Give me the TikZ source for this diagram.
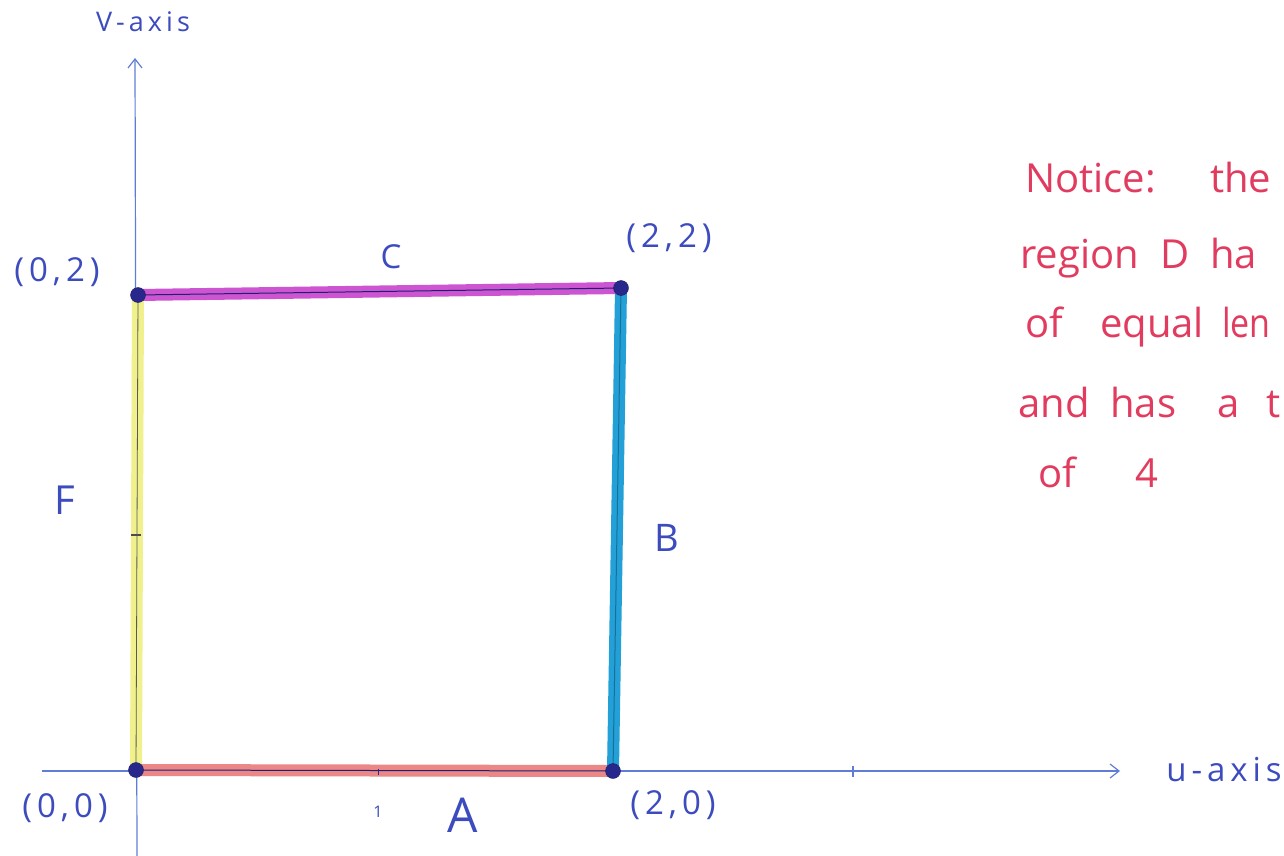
\documentclass[tikz,border=0pt]{standalone}
\usepackage{fontspec}
\usepackage{graphicx}
\setmainfont{Open Sans}
\usetikzlibrary{arrows.meta}
\definecolor{pen}{RGB}{60,75,190}
\definecolor{axisblue}{RGB}{95,125,215}
\definecolor{dotc}{RGB}{40,40,140}
\definecolor{hlC}{RGB}{205,85,210}
\definecolor{hlB}{RGB}{35,160,215}
\definecolor{hlF}{RGB}{240,240,140}
\definecolor{hlA}{RGB}{235,135,135}
\definecolor{note}{RGB}{225,60,95}
\tikzset{
  axisline/.style={draw=axisblue, line width=1.2pt},
  hl/.style={line width=12pt, line cap=round},
  penline/.style={draw=dotc!80!black, line width=1pt},
  vertex/.style={circle, fill=dotc, draw=dotc!70!black, minimum size=15pt, inner sep=0pt},
  lbl/.style={text=pen, font=\fontsize{33}{36}\selectfont\addfontfeature{LetterSpace=15}, inner sep=0pt},
  notetxt/.style={text=note, font=\fontsize{40}{44}\selectfont, anchor=base west, inner sep=0pt},
}
\begin{document}
\begin{tikzpicture}[x=1pt,y=-1pt]
\fill[white] (0,0) rectangle (1284,856);
\begin{scope}
\clip (0,0) rectangle (1284,856);
% axes
\coordinate (vbot) at (137,856);
\coordinate (vtop) at (135,58);
\coordinate (uleft) at (42,771);
\coordinate (uright) at (1120,771);
\draw[axisline, -{Straight Barb[length=9pt,width=14pt]}] (vbot) -- (vtop);
\draw[axisline, -{Straight Barb[length=9pt,width=14pt]}] (uleft) -- (uright);
\draw[axisline] (853,766) -- (853,777);
% vertices positions
\coordinate (O) at (136,770);
\coordinate (P20) at (613,771);
\coordinate (P22) at (621,288);
\coordinate (P02) at (138,295);
% highlighter edges
\draw[hl, hlF] (O) -- (P02);
\draw[hl, hlA] (O) -- (P20);
\draw[hl, hlB] (P20) -- (P22);
\draw[hl, hlC] (P02) -- (P22);
% pen lines
\draw[penline, draw=gray!70!black, line width=0.8pt] (O) -- (P02);
\draw[penline] (O) -- (P20);
\draw[penline, draw=hlB!70!black] (P20) -- (P22);
\draw[penline] (P02) -- (P22);
\draw[line width=1.5pt, black!70] (131,535) -- (141,535);
\draw[line width=1pt, dotc] (378,769) -- (378,775);
% vertex dots
\node[vertex] (o) at (O) {};
\node[vertex] (p20) at (P20) {};
\node[vertex] (p22) at (P22) {};
\node[vertex] (p02) at (P02) {};
% labels
\node[lbl, font=\fontsize{27}{30}\selectfont\addfontfeature{LetterSpace=15}] (vlab) at (143,22) {V-axis};
\node[lbl] (ulab) at (1224,770) {u-axis};
\node[lbl] (l02) at (57,272) {(0,2)};
\node[lbl] (l22) at (669,238) {(2,2)};
\node[lbl] (l00) at (65,808) {(0,0)};
\node[lbl] (l20) at (673,805) {(2,0)};
\node[lbl] (lC) at (391,257) {C};
\node[lbl, font=\fontsize{38}{40}\selectfont] (lB) at (667,538) {B};
\node[lbl, font=\fontsize{40}{44}\selectfont] (lF) at (65,500) {F};
\node[lbl, font=\fontsize{48}{52}\selectfont] (lA) at (463,815) {A};
\node[lbl, font=\fontsize{16}{18}\selectfont] (l1) at (378,812) {1};
% note, word by word
\node[notetxt] (n1a) at (1025,192) {Notice:};
\node[notetxt] (n1b) at (1210,192) {the};
\node[notetxt] (n2a) at (1020,268) {region};
\node[notetxt] (n2b) at (1160,268) {D};
\node[notetxt] (n2c) at (1210,268) {ha};
\node[notetxt] (n3a) at (1025,337) {of};
\node[notetxt] (n3b) at (1100,337) {equal};
\node[notetxt] (n3c) at (1222,337) {\scalebox{0.85}[1]{len}};
\node[notetxt] (n4a) at (1018,417) {and};
\node[notetxt] (n4b) at (1110,417) {has};
\node[notetxt] (n4c) at (1217,417) {a};
\node[notetxt] (n4d) at (1266,417) {t};
\node[notetxt] (n5a) at (1038,487) {of};
\node[notetxt] (n5b) at (1135,487) {4};
\end{scope}
\end{tikzpicture}
\end{document}
